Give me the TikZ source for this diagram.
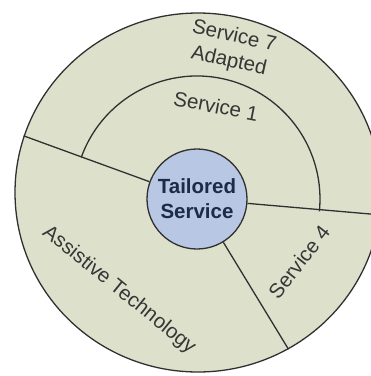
\documentclass[tikz,border=0pt]{standalone}
\usepackage{fontspec}
\setmainfont{Liberation Sans}
\usetikzlibrary{shapes.geometric,calc}
\definecolor{ringfill}{HTML}{DDE1CC}
\definecolor{hubfill}{HTML}{B8C7E3}
\definecolor{edgeline}{HTML}{303030}
\definecolor{labeltext}{HTML}{363636}
\definecolor{hubtext}{HTML}{1C2B48}
\begin{document}
\begin{tikzpicture}[x=1pt,y=1pt,
  divider/.style={draw=edgeline,line width=1.3pt},
  ringlabel/.style={text=labeltext,font=\fontsize{20.5}{25}\selectfont,align=center,inner sep=0pt},
]
\useasboundingbox (0,0) rectangle (371,-376);
\clip (0,0) rectangle (371,-376);

% outer ring
\node[ellipse, draw=edgeline, line width=1.3pt, fill=ringfill,
      minimum width=366pt, minimum height=359pt, inner sep=0pt] (outer) at (198,-192.5) {};

% hub
\node[circle, draw=edgeline, line width=1.3pt, fill=hubfill, minimum size=100pt, inner sep=0pt,
      text=hubtext, font=\bfseries\fontsize{20.5}{25}\selectfont, align=center] (core) at (197,-199)
      {Tailored\\Service};

% middle ring boundary
\coordinate (arcL) at ($(core.center)+(160.2:123pt)$);
\draw[divider] (arcL) arc[start angle=160.2, end angle=-5.8, radius=123pt];

% sector dividers
\draw[divider] (core) -- (outer.162.2);
\draw[divider] (core) -- (outer.-7.8);
\draw[divider] (core) -- (outer.-60.2);

% sector labels
\node[ringlabel, rotate=-12.5] (s7) at (231.5,-49) {Service 7\\Adapted};
\node[ringlabel, rotate=-11] (s1) at (216,-106) {Service 1};
\node[ringlabel, rotate=52] (s4) at (299,-262) {Service 4};
\node[ringlabel, rotate=-39] (at) at (119,-290) {Assistive Technology};
\end{tikzpicture}
\end{document}
